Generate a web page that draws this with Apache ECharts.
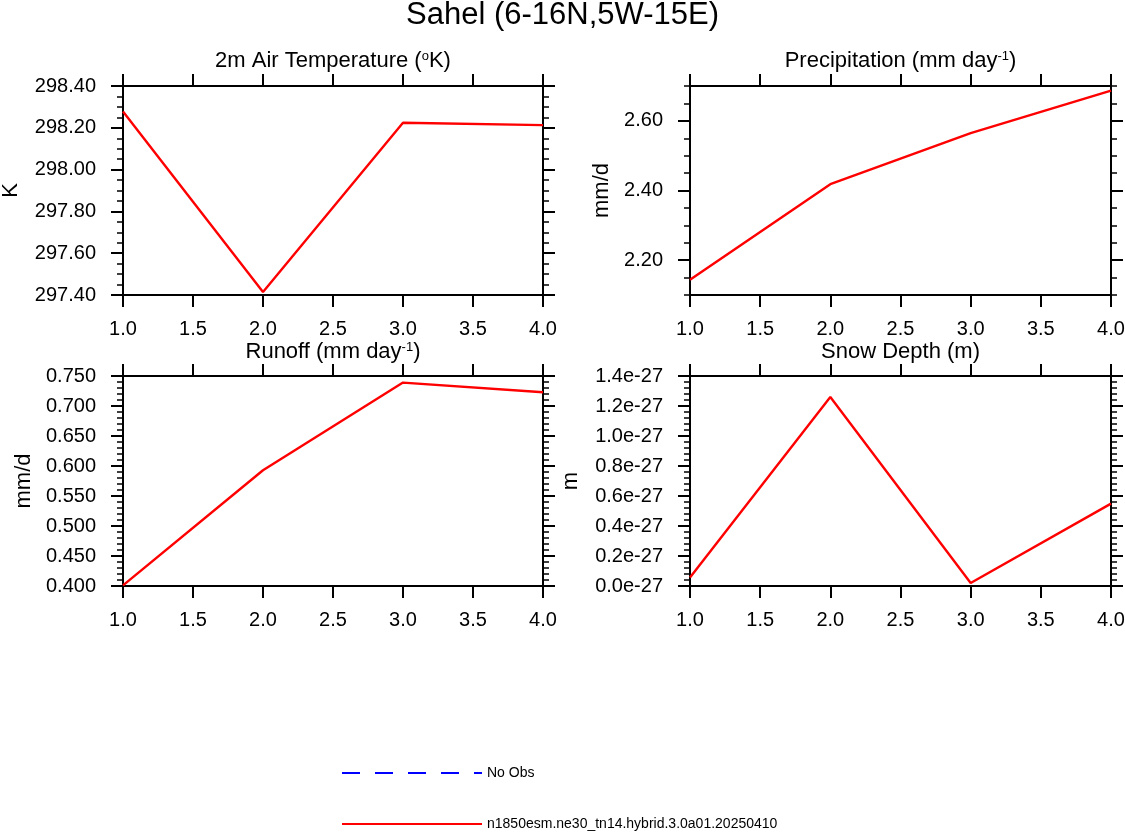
<!DOCTYPE html>
<html>
<head>
<meta charset="utf-8">
<script src="https://cdn.jsdelivr.net/npm/echarts@6/dist/echarts.min.js"></script>
<style>
  html, body { margin: 0; padding: 0; background: #fff; }
  #chart { width: 1125px; height: 832px; }
</style>
</head>
<body>
<div id="chart"></div>
<script>
// ---------------- data ----------------
const xValues = [1, 2, 3, 4];
const xTicks = [1.0, 1.5, 2.0, 2.5, 3.0, 3.5, 4.0];

const tempK = [298.278, 297.414, 298.224, 298.213];
const tempTicks = [297.4, 297.6, 297.8, 298.0, 298.2, 298.4];

const precip = [2.144, 2.418, 2.565, 2.687];
const precipTicks = [2.2, 2.4, 2.6];

const runoff = [0.401, 0.593, 0.739, 0.723];
const runoffTicks = [0.40, 0.45, 0.50, 0.55, 0.60, 0.65, 0.70, 0.75];

// snow depth in units of 1e-27 m
const snowDepthE27 = [0.056, 1.26, 0.02, 0.549];
const snowTicks = [0.0, 0.2, 0.4, 0.6, 0.8, 1.0, 1.2, 1.4];

const mainTitle = 'Sahel (6-16N,5W-15E)';
const modelName = 'n1850esm.ne30_tn14.hybrid.3.0a01.20250410';
const obsName = 'No Obs';

// ---------------- layout / style ----------------
const FONT = 'Liberation Sans, Arial, Helvetica, sans-serif';
const BLACK = '#000';

const panels = [
  { grid: { left: 123, top: 86, width: 420, height: 209 },
    min: 297.4, max: 298.4, minor: 0.05, ticks: tempTicks, data: tempK,
    fmt: v => v.toFixed(2), name: 'K', nameGap: 101,
    title: '2m Air Temperature ({sup|o}K)', tx: 333, ty: 50 },
  { grid: { left: 690, top: 86, width: 421, height: 209 },
    min: 2.1, max: 2.7, minor: 0.05, ticks: precipTicks, data: precip,
    fmt: v => v.toFixed(2), name: 'mm/d', nameGap: 77,
    title: 'Precipitation (mm day{sup|-1})', tx: 900.5, ty: 50 },
  { grid: { left: 123, top: 376, width: 420, height: 210 },
    min: 0.4, max: 0.75, minor: 0.01, ticks: runoffTicks, data: runoff,
    fmt: v => v.toFixed(3), name: 'mm/d', nameGap: 88,
    title: 'Runoff (mm day{sup|-1})', tx: 333, ty: 341 },
  { grid: { left: 690, top: 376, width: 421, height: 210 },
    min: 0, max: 1.4, minor: 0.04, ticks: snowTicks, data: snowDepthE27,
    fmt: v => v.toFixed(1) + 'e-27', name: 'm', nameGap: 108,
    title: 'Snow Depth (m)', tx: 900.5, ty: 341 }
];

const grids = [], xAxes = [], yAxes = [], series = [];
const titles = [{
  text: mainTitle, left: 'center', top: 0, padding: 0,
  textStyle: { fontFamily: FONT, fontSize: 31, fontWeight: 'normal', color: BLACK }
}];

const tickLine = { lineStyle: { color: BLACK, width: 2 } };

panels.forEach((p, i) => {
  grids.push(Object.assign({ outerBoundsMode: 'none', containLabel: false }, p.grid));

  // x axes: bottom (labels) and top (ticks only)
  ['bottom', 'top'].forEach((pos, k) => {
    xAxes.push({
      type: 'value', gridIndex: i, position: pos,
      min: 1, max: 4, interval: 0.5,
      axisLine: { show: true, onZero: false, lineStyle: { color: BLACK, width: 2 } },
      axisTick: Object.assign({ show: true, length: 12, customValues: xTicks }, tickLine),
      axisLabel: { show: k === 0, customValues: xTicks, margin: 24,
        formatter: v => v.toFixed(1),
        fontFamily: FONT, fontSize: 20, color: BLACK },
      splitLine: { show: false }
    });
  });

  // y axes: left/right, each major (custom ticks) + minor
  ['left', 'right'].forEach((pos, k) => {
    yAxes.push({
      type: 'value', gridIndex: i, position: pos,
      min: p.min, max: p.max,
      name: k === 0 ? p.name : '', nameLocation: 'middle', nameGap: p.nameGap,
      nameTextStyle: { fontFamily: FONT, fontSize: 22, color: BLACK },
      axisLine: { show: true, onZero: false, lineStyle: { color: BLACK, width: 2 } },
      axisTick: Object.assign({ show: true, length: 12, customValues: p.ticks }, tickLine),
      axisLabel: { show: k === 0, customValues: p.ticks, margin: 27,
        formatter: p.fmt, fontFamily: FONT, fontSize: 20, color: BLACK },
      splitLine: { show: false }
    });
    yAxes.push({
      type: 'value', gridIndex: i, position: pos,
      min: p.min, max: p.max, interval: p.minor,
      axisLine: { show: false, onZero: false },
      axisTick: { show: true, length: 6, lineStyle: { color: BLACK, width: 1.5 } },
      axisLabel: { show: false },
      splitLine: { show: false }
    });
  });

  series.push({
    type: 'line', name: modelName,
    xAxisIndex: 2 * i, yAxisIndex: 4 * i,
    data: xValues.map((x, k) => [x, p.data[k]]),
    symbol: 'none', silent: true, animation: false,
    lineStyle: { color: '#ff0000', width: 2.4 }, itemStyle: { color: '#ff0000' }
  });

  titles.push({
    text: p.title, left: p.tx, top: p.ty, padding: 0, textAlign: 'center',
    textStyle: { fontFamily: FONT, fontSize: 22, fontWeight: 'normal', color: BLACK,
      rich: { sup: { fontFamily: FONT, fontSize: 13, color: BLACK, verticalAlign: 'top' } } }
  });
});

// empty observation series (legend only)
series.push({
  type: 'line', name: obsName, xAxisIndex: 0, yAxisIndex: 0, data: [],
  symbol: 'none', animation: false,
  lineStyle: { color: '#0000ff', width: 2, type: [18, 15] }, itemStyle: { color: '#0000ff' }
});

const legendText = { fontFamily: FONT, fontSize: 14, color: BLACK };
const hiddenSymbol = { color: 'rgba(0,0,0,0)', borderWidth: 0, opacity: 0 };
const option = {
  backgroundColor: '#fff',
  animation: false,
  title: titles,
  grid: grids,
  xAxis: xAxes,
  yAxis: yAxes,
  legend: [
    { data: [obsName], left: 341, top: 766, padding: 0, itemWidth: 140, itemHeight: 14,
      selectedMode: false, textStyle: legendText, itemStyle: hiddenSymbol,
      lineStyle: { color: '#0000ff', width: 2, type: [18, 15] } },
    { data: [modelName], left: 341, top: 817, padding: 0, itemWidth: 140, itemHeight: 14,
      selectedMode: false, textStyle: legendText, itemStyle: hiddenSymbol,
      lineStyle: { color: '#ff0000', width: 2 } }
  ],
  series: series
};

const chart = echarts.init(document.getElementById('chart'), null, { renderer: 'canvas' });
chart.setOption(option);
</script>
</body>
</html>
